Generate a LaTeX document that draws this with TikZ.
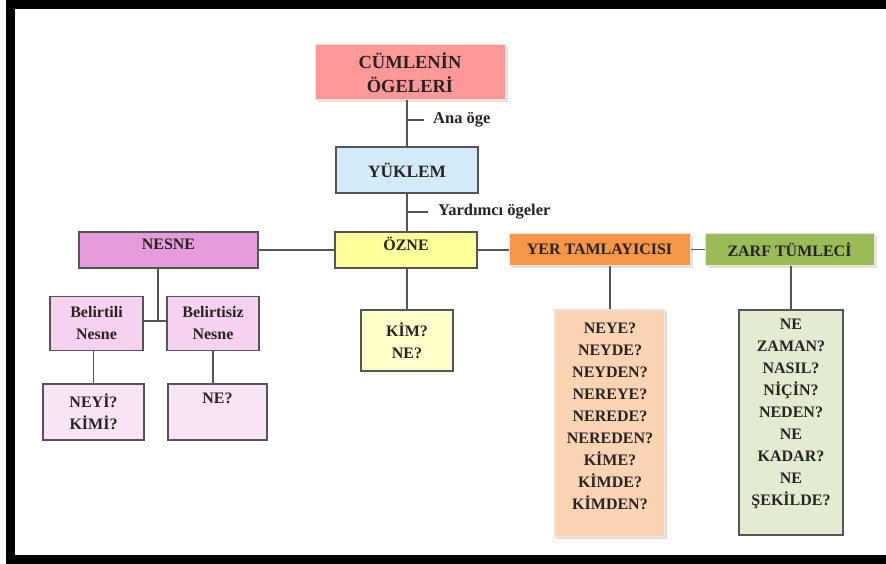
\documentclass[tikz,border=0pt]{standalone}
\usepackage{fontspec}
\setmainfont{Liberation Serif}
\usetikzlibrary{shadows}
\definecolor{linegray}{RGB}{85,85,85}
\definecolor{rimgray}{RGB}{236,228,218}
\definecolor{shadowgray}{RGB}{205,198,188}
\definecolor{titlepink}{RGB}{255,153,153}
\definecolor{yuklemblue}{RGB}{210,234,250}
\definecolor{ozneyellow}{RGB}{255,255,153}
\definecolor{kimyellow}{RGB}{255,255,204}
\definecolor{nesneviolet}{RGB}{230,155,220}
\definecolor{belirtpink}{RGB}{246,210,240}
\definecolor{sorupink}{RGB}{249,228,246}
\definecolor{yerorange}{RGB}{247,150,70}
\definecolor{yerlight}{RGB}{251,212,180}
\definecolor{zarfgreen}{RGB}{155,187,89}
\definecolor{zarflight}{RGB}{226,236,208}
\definecolor{textgray}{RGB}{40,35,35}
\tikzset{
  box/.style={draw=linegray, line width=1.2pt, align=center, inner sep=2pt,
    text=textgray, font=\bfseries\fontsize{16}{22}\selectfont},
  raised/.style={draw=rimgray, line width=1pt, align=center, inner sep=2pt,
    text=textgray, font=\bfseries\fontsize{16}{22}\selectfont,
    drop shadow={shadow xshift=2.5pt, shadow yshift=-2.5pt, fill=shadowgray}},
  link/.style={draw=linegray, line width=1.5pt},
  lbl/.style={text=textgray, font=\bfseries\fontsize{16.5}{20}\selectfont, inner sep=0pt}
}
\begin{document}
\begin{tikzpicture}[x=1pt,y=-1pt]
\useasboundingbox (0,0) rectangle (886,564);
\fill[white] (0,0) rectangle (886,564);
\draw[line width=9pt] (886,4.5) -- (10,4.5) -- (10,559.5) -- (886,559.5);

\node[raised, fill=titlepink, minimum width=190pt, minimum height=55pt,
  font=\bfseries\fontsize{18.5}{24}\selectfont] (title) at (410,72.5) {CÜMLENİN\\ÖGELERİ};
\node[box, fill=yuklemblue, minimum width=142pt, minimum height=46pt,
  font=\bfseries\fontsize{17.3}{22}\selectfont] (yuklem) at (407,170) {YÜKLEM};
\node[box, fill=ozneyellow, minimum width=142pt, minimum height=36pt, text depth=12pt] (ozne) at (406,250) {ÖZNE};
\node[box, fill=nesneviolet, minimum width=179pt, minimum height=36pt, text depth=12pt] (nesne) at (168.5,250) {NESNE};
\node[raised, fill=yerorange, minimum width=181pt, minimum height=32pt] (yer) at (599.5,249.5) {YER TAMLAYICISI};
\node[raised, fill=zarfgreen, minimum width=169pt, minimum height=32pt] (zarf) at (789.5,249.5) {ZARF TÜMLECİ};

\node[box, fill=belirtpink, minimum width=93pt, minimum height=54pt] (belirtili) at (96.5,323.5) {Belirtili\\Nesne};
\node[box, fill=belirtpink, minimum width=92pt, minimum height=54pt] (belirtisiz) at (213,323.5) {Belirtisiz\\Nesne};
\node[box, fill=sorupink, minimum width=101pt, minimum height=56pt] (neyi) at (93.5,412) {NEYİ?\\KİMİ?};
\node[box, fill=sorupink, minimum width=99pt, minimum height=56pt, text depth=28pt] (ne) at (217.5,412) {NE?};
\node[box, fill=kimyellow, minimum width=92pt, minimum height=61pt] (kim) at (407,340.5) {KİM?\\NE?};
\node[box, draw=rimgray, fill=yerlight, minimum width=110pt, minimum height=227pt, text depth=14pt,
  drop shadow={shadow xshift=2pt, shadow yshift=-2pt, fill=black!30}] (yersoru) at (610,423.5)
  {NEYE?\\NEYDE?\\NEYDEN?\\NEREYE?\\NEREDE?\\NEREDEN?\\KİME?\\KİMDE?\\KİMDEN?};
\node[box, fill=zarflight, minimum width=104pt, minimum height=225pt, text depth=20pt] (zarfsoru) at (791,422.5)
  {NE\\ZAMAN?\\NASIL?\\NİÇİN?\\NEDEN?\\NE\\KADAR?\\NE\\ŞEKİLDE?};

\coordinate (anatick) at (407,120);
\node[lbl, anchor=west] (ana) at (433,120) {Ana öge};
\coordinate (yardtick) at (407,212);
\node[lbl, anchor=west] (yard) at (438,212) {Yardımcı ögeler};
\coordinate (njoin) at (158,321);

\draw[link] (yuklem.north) -- (yuklem.north |- title.south);
\draw[link] (anatick) -- ++(17,0);
\draw[link] (yuklem.south) -- (yuklem.south |- ozne.north);
\draw[link] (yardtick) -- ++(21,0);
\draw[link] (nesne.east) -- (ozne.west);
\draw[link] (ozne.east) -- (ozne.east -| yer.west);
\draw[link] (yer.east) -- (zarf.west);
\draw[link] (kim.north) -- (kim.north |- ozne.south);
\draw[link] (yersoru.north) -- (yersoru.north |- yer.south);
\draw[link] (zarfsoru.north) -- (zarfsoru.north |- zarf.south);
\draw[link] (njoin |- nesne.south) -- (njoin);
\draw[link] (belirtili.east |- njoin) -- (belirtisiz.west |- njoin);
\draw[link] (neyi.north) -- (neyi.north |- belirtili.south);
\draw[link] (belirtisiz.south) -- (belirtisiz.south |- ne.north);
\end{tikzpicture}
\end{document}
